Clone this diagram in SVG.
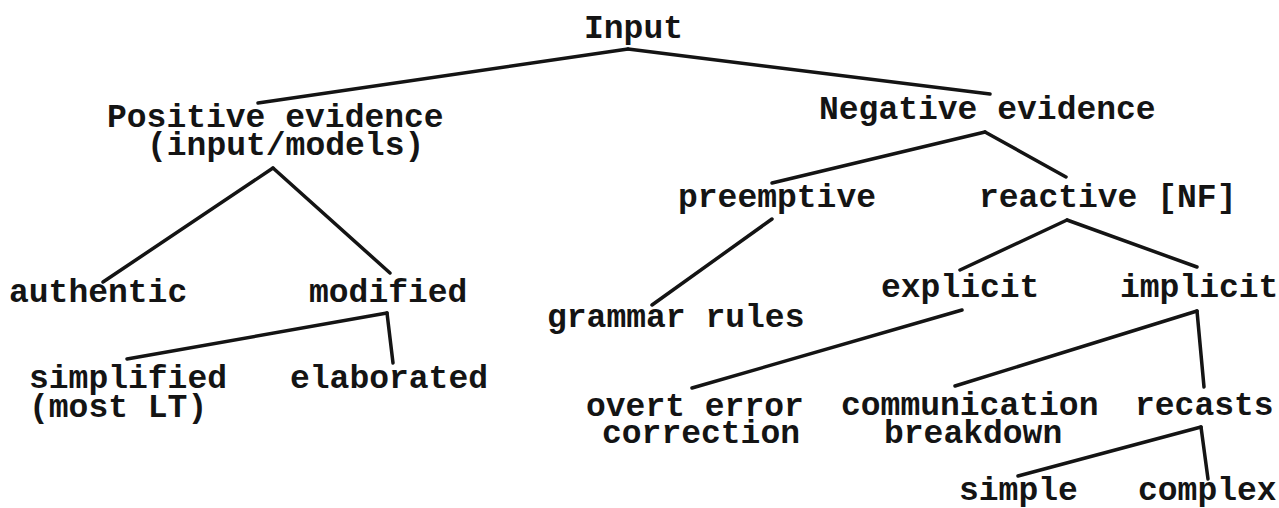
<svg xmlns="http://www.w3.org/2000/svg" width="1279" height="508" viewBox="0 0 1279 508">
<style>
.t{font-family:"Liberation Mono","Courier New",monospace;font-weight:bold;font-size:33px;fill:#141414}
.c line{stroke:#141414;stroke-width:3.5;stroke-linecap:round}
</style>
<rect width="1279" height="508" fill="#ffffff"/>
<g class="c" id="connectors">
<line x1="628" y1="49" x2="258" y2="103"/>
<line x1="628" y1="49" x2="990" y2="94"/>
<line x1="273" y1="168" x2="103" y2="282"/>
<line x1="273" y1="168" x2="390" y2="273"/>
<line x1="387" y1="313" x2="127" y2="359"/>
<line x1="387" y1="313" x2="393" y2="363"/>
<line x1="985" y1="132" x2="772" y2="183"/>
<line x1="985" y1="132" x2="1066" y2="177"/>
<line x1="772" y1="219" x2="652" y2="305"/>
<line x1="1067" y1="220" x2="960" y2="270"/>
<line x1="1067" y1="220" x2="1197" y2="267"/>
<line x1="962" y1="310" x2="692" y2="388"/>
<line x1="1197" y1="311" x2="955" y2="386"/>
<line x1="1197" y1="311" x2="1204" y2="387"/>
<line x1="1201" y1="427" x2="1018" y2="476"/>
<line x1="1201" y1="427" x2="1208" y2="479"/>
</g>
<g id="input"><text class="t" x="584" y="38">Input</text></g>
<g id="positive"><text class="t" x="107" y="127">Positive evidence</text><text class="t" x="147" y="155">(input/models)</text></g>
<g id="negative"><text class="t" x="819" y="119">Negative evidence</text></g>
<g id="authentic"><text class="t" x="9" y="302">authentic</text></g>
<g id="modified"><text class="t" x="309" y="302">modified</text></g>
<g id="simplified"><text class="t" x="29" y="388">simplified</text><text class="t" x="29" y="417">(most LT)</text></g>
<g id="elaborated"><text class="t" x="290" y="388">elaborated</text></g>
<g id="preemptive"><text class="t" x="678" y="207">preemptive</text></g>
<g id="reactive"><text class="t" x="979" y="207">reactive [NF]</text></g>
<g id="grammar"><text class="t" x="547" y="327">grammar rules</text></g>
<g id="explicit"><text class="t" x="881" y="297">explicit</text></g>
<g id="implicit"><text class="t" x="1120" y="297">implicit</text></g>
<g id="overt"><text class="t" x="586" y="416">overt error</text><text class="t" x="602" y="443">correction</text></g>
<g id="communication"><text class="t" x="841" y="415">communication</text><text class="t" x="884" y="443">breakdown</text></g>
<g id="recasts"><text class="t" x="1135" y="415">recasts</text></g>
<g id="simple"><text class="t" x="959" y="500">simple</text></g>
<g id="complex"><text class="t" x="1138" y="500">complex</text></g>
</svg>
